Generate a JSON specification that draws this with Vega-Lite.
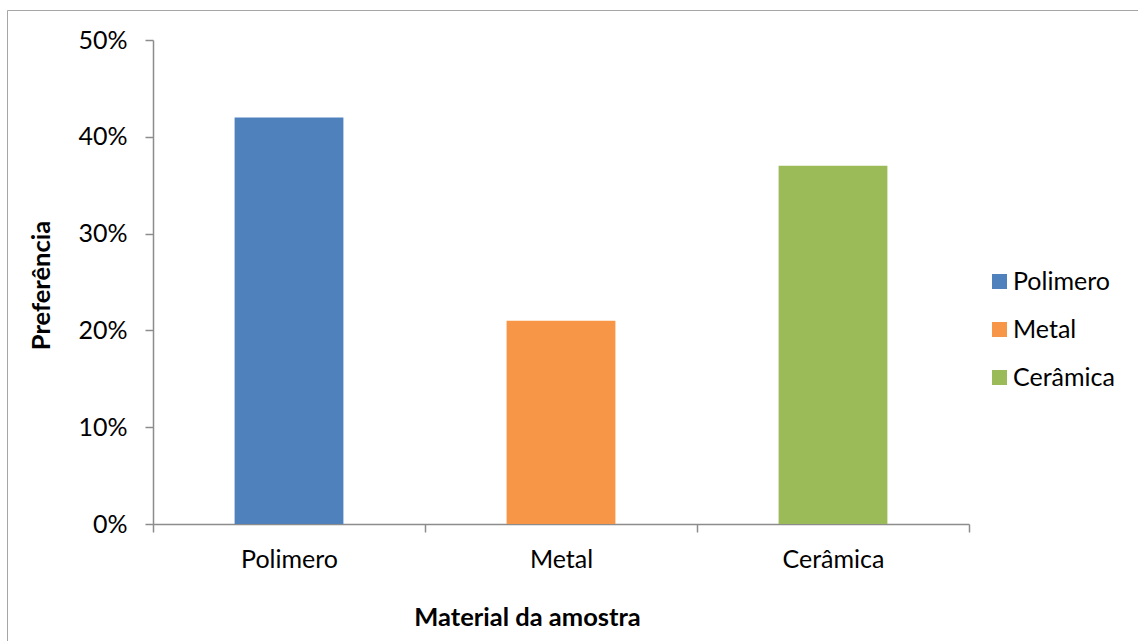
{
  "$schema": "https://vega.github.io/schema/vega-lite/v6.json",
  "autosize": {"type": "none"},
  "width": 1131,
  "height": 631,
  "padding": {"left": 7, "top": 10, "right": 0, "bottom": 0},
  "background": "white",
  "config": {
    "view": {"stroke": "#A6A6A6", "strokeWidth": 1},
    "font": "Lato",
    "axis": {
      "grid": false,
      "domainColor": "#8C8C8C",
      "domainWidth": 1.5,
      "tickColor": "#8C8C8C",
      "tickWidth": 1.5,
      "tickSize": 8,
      "labelFont": "Lato",
      "labelFontSize": 25,
      "labelColor": "#000000",
      "titleFont": "Lato",
      "titleFontSize": 25.5,
      "titleFontWeight": "bold",
      "titleColor": "#000000"
    },
    "legend": {
      "labelFont": "Lato",
      "labelFontSize": 25,
      "labelColor": "#000000"
    }
  },
  "data": {
    "values": [
      {"material": "Polimero", "preferencia": 0.42},
      {"material": "Metal", "preferencia": 0.21},
      {"material": "Cerâmica", "preferencia": 0.37}
    ]
  },
  "mark": {"type": "bar", "width": {"band": 0.4}},
  "encoding": {
    "x": {
      "field": "material",
      "type": "nominal",
      "sort": ["Polimero", "Metal", "Cerâmica"],
      "scale": {"range": [146, 962], "paddingInner": 0, "paddingOuter": 0},
      "axis": {
        "title": "Material da amostra",
        "offset": -117,
        "labelAngle": 0,
        "labelBaseline": "alphabetic",
        "labelPadding": 35,
        "ticks": true,
        "tickBand": "extent",
        "titleX": 520,
        "titleY": 101,
        "titleBaseline": "alphabetic",
        "titleAlign": "center"
      }
    },
    "y": {
      "field": "preferencia",
      "type": "quantitative",
      "scale": {"domain": [0, 0.5], "range": [514, 30], "nice": false, "zero": true},
      "axis": {
        "title": "Preferência",
        "offset": -146,
        "values": [0, 0.1, 0.2, 0.3, 0.4, 0.5],
        "format": ".0%",
        "labelPadding": 18,
        "titleX": -104,
        "titleY": 275,
        "titleAngle": -90,
        "titleAlign": "center",
        "titleBaseline": "alphabetic"
      }
    },
    "color": {
      "field": "material",
      "type": "nominal",
      "sort": ["Polimero", "Metal", "Cerâmica"],
      "scale": {"domain": ["Polimero", "Metal", "Cerâmica"], "range": ["#4F81BD", "#F79646", "#9BBB59"]},
      "legend": {
        "title": null,
        "orient": "none",
        "legendX": 980,
        "legendY": 259,
        "padding": 0,
        "symbolType": "square",
        "symbolSize": 225,
        "symbolStrokeWidth": 0,
        "labelOffset": 1,
        "rowPadding": 22
      }
    }
  }
}
